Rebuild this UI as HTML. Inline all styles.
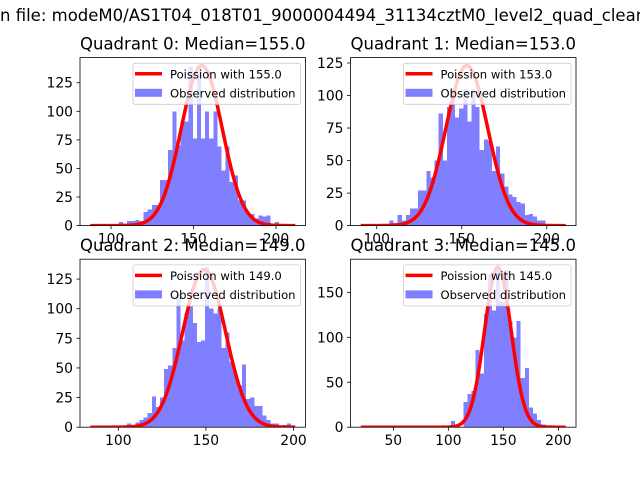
<!DOCTYPE html>
<html><head><meta charset="utf-8">
<style>
html,body{margin:0;padding:0;background:#fff;}
svg{display:block;font-family:"DejaVu Sans","Liberation Sans",sans-serif;}
</style></head>
<body>
<svg id="fig" width="640" height="480" viewBox="0 0 640 480" xmlns="http://www.w3.org/2000/svg">
<rect width="640" height="480" fill="#fff"/>
<text x="0" y="21" font-size="16.5" fill="#000">n file: modeM0/AS1T04_018T01_9000004494_31134cztM0_level2_quad_clean</text>
</svg>
<script>
// ---- data ----
const medians = [155.0, 153.0, 149.0, 145.0];
const poissonPeaks = [140, 123, 133, 178];
const xMins = [87.4, 90.6, 84.0, 20.4];
const xMaxs = [211.7, 211.2, 201.0, 206.7];
const q0Counts = [0,0,0,0,0,1,1,3,2,4,4,5,4,12,14,18,18,40,40,66,100,70,91,91,139,76,140,76,100,76,100,69,48,69,38,44,22,22,11,10,6,9,8,9,2,3,0,1,0,0];
const q1Counts = [0,0,0,0,1,1,1,4,2,8,4,8,13,13,27,27,42,37,50,86,50,91,105,83,90,105,80,105,91,58,66,65,42,61,40,30,24,22,18,17,8,9,7,4,4,1,0,0,0,0];
const q2Counts = [0,0,0,0,0,0,0,0,1,3,0,4,6,8,12,26,17,25,49,52,67,112,73,96,102,88,72,73,135,100,96,100,67,80,55,44,35,53,24,25,18,18,10,6,3,3,1,2,3,0];
const q3Counts = [0,0,0,0,0,0,0,0,0,0,0,0,0,0,0,0,0,0,0,0,0,0,7,0,0,28,37,40,86,60,126,170,130,175,140,175,118,100,118,55,66,22,15,8,3,1,0,0,0,0];
const xTicks = [[100,150,200],[100,150,200],[100,150,200],[50,100,150,200]];
const yTicks = [[0,25,50,75,100,125],[0,25,50,75,100,125],[0,25,50,75,100,125],[0,50,100,150]];
const countsAll = [q0Counts, q1Counts, q2Counts, q3Counts];

const NS = "http://www.w3.org/2000/svg";
const svg = document.getElementById('fig');
function mk(tag, attrs, parent){
  const e = document.createElementNS(NS, tag);
  for (const k in attrs) e.setAttribute(k, attrs[k]);
  (parent||svg).appendChild(e);
  return e;
}
const boxes = [
  {l:80, r:305.5, t:57.6, b:225.6},
  {l:350.5, r:576, t:57.6, b:225.6},
  {l:80, r:305.5, t:259.2, b:427.2},
  {l:350.5, r:576, t:259.2, b:427.2}
];
for (let q=0; q<4; q++){
  const B = boxes[q], counts = countsAll[q];
  const x0 = xMins[q], x1 = xMaxs[q], span = x1-x0;
  const dmin = x0 - 0.05*span, dmax = x1 + 0.05*span;
  const ymax = Math.max(poissonPeaks[q], Math.max(...counts)) * 1.05;
  const xs = v => B.l + (v-dmin)/(dmax-dmin)*(B.r-B.l);
  const ys = v => B.b - v/ymax*(B.b-B.t);
  const g = mk('g', {});
  
  
  const clipId = 'clip'+q;
  const cp = mk('clipPath', {id: clipId}, g);
  mk('rect', {x:B.l, y:B.t, width:B.r-B.l, height:B.b-B.t}, cp);
  const plot = mk('g', {'clip-path':'url(#'+clipId+')'}, g);
  const bars = mk('g', {'shape-rendering':'crispEdges'}, plot);
  const n = counts.length, bw = span/n;
  counts.forEach((c,i)=>{
    if (c<=0) return;
    const r = mk('rect', {x:xs(x0+i*bw), y:ys(c), width:xs(x0+(i+1)*bw)-xs(x0+i*bw), height:ys(0)-ys(c), fill:'#0000ff', 'fill-opacity':0.5}, bars);
    
    
  });
  const lam = medians[q];
  let d = '';
  for (let i=0;i<=200;i++){
    const x = x0 + span*i/200;
    const y = poissonPeaks[q]*Math.exp(-(x-lam)*(x-lam)/(2*lam));
    d += (i?'L':'M') + xs(x).toFixed(2) + ' ' + ys(y).toFixed(2);
  }
  const line = mk('path', {d:d, fill:'none', stroke:'#ff0000', 'stroke-width':3.5, 'stroke-linejoin':'round'}, plot);
  
  
  const fr = mk('rect', {x:B.l, y:B.t, width:B.r-B.l, height:B.b-B.t, fill:'none', stroke:'#000', 'stroke-width':0.8}, g);
  
  
  xTicks[q].forEach(v=>{
    const X = xs(v);
    mk('line', {x1:X, x2:X, y1:B.b, y2:B.b+3.5, stroke:'#000', 'stroke-width':0.8}, g);
    const t = mk('text', {x:X, y:B.b+18, 'font-size':13.9, 'text-anchor':'middle', fill:'#000'}, g);
    t.textContent = v;
    
    
  });
  yTicks[q].forEach(v=>{
    const Y = ys(v);
    mk('line', {x1:B.l-3.5, x2:B.l, y1:Y, y2:Y, stroke:'#000', 'stroke-width':0.8}, g);
    const t = mk('text', {x:B.l-7, y:Y+5, 'font-size':13.9, 'text-anchor':'end', fill:'#000'}, g);
    t.textContent = v;
    
    
  });
  const tt = mk('text', {x:(B.l+B.r)/2, y:B.t-8, 'font-size':16.5, 'text-anchor':'middle', fill:'#000'}, g);
  tt.textContent = 'Quadrant ' + q + ': Median=' + medians[q].toFixed(1);
  
  
  const lg = mk('g', {}, g);
  
  
  const lx = B.r - 172.5, ly = B.t + 5.7;
  mk('rect', {x:lx, y:ly, width:167.5, height:41, rx:2, fill:'#fff', 'fill-opacity':0.8, stroke:'#ccc', 'stroke-width':0.8}, lg);
  mk('line', {x1:lx+2, x2:lx+29, y1:ly+10.5, y2:ly+10.5, stroke:'#ff0000', 'stroke-width':3.5}, lg);
  mk('rect', {x:lx+2, y:ly+25.5, width:27, height:8, fill:'#0000ff', 'fill-opacity':0.5}, lg);
  const l1 = mk('text', {x:lx+37, y:ly+15, 'font-size':11.6, fill:'#000'}, lg);
  l1.textContent = 'Poission with ' + medians[q].toFixed(1);
  
  
  const l2 = mk('text', {x:lx+37, y:ly+34, 'font-size':11.6, fill:'#000'}, lg);
  l2.textContent = 'Observed distribution';
  
  
}
</script>
</body></html>
